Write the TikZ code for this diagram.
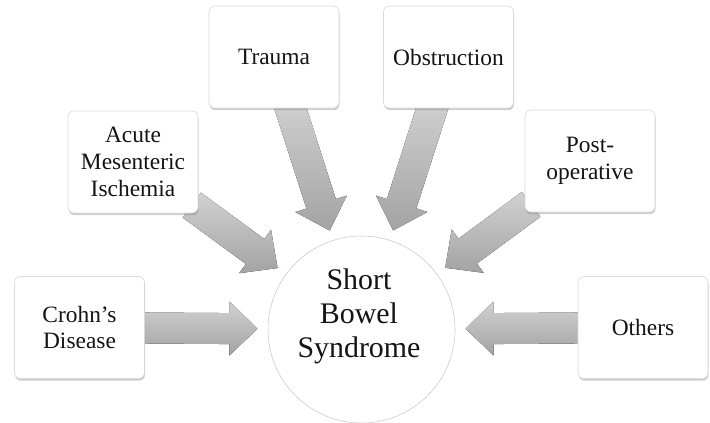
\documentclass[tikz,border=0pt]{standalone}
\usepackage{fontspec}
\setmainfont{Liberation Serif}
\usetikzlibrary{calc,shadows}
\pgfdeclarelayer{background}
\pgfsetlayers{background,main}

% Block arrow from the border of node #1 to the coordinate #2
\newcommand\feedarrow[2]{%
  \path (#1) -- (#2) coordinate[pos=0] (fa-s);
  \coordinate (fa-a) at ($(fa-s)!-8bp!(#2)$);
  \coordinate (fa-h) at ($(#2)!28bp!(fa-s)$);
  \fill[feed] ($(fa-a)!15.5bp!90:(#2)$) -- ($(fa-h)!15.5bp!90:(#2)$)
    -- ($(fa-h)!27bp!90:(#2)$) -- (#2) -- ($(fa-h)!27bp!-90:(#2)$)
    -- ($(fa-h)!15.5bp!-90:(#2)$) -- ($(fa-a)!15.5bp!-90:(#2)$) -- cycle;
}

\begin{document}
\begin{tikzpicture}[x=1bp,y=-1bp,
  cause/.style={draw=gray!30, line width=0.6bp, fill=white, rounded corners=6bp,
    minimum width=130bp, minimum height=102bp, align=center, inner sep=2bp,
    font=\fontsize{23.5}{27}\selectfont, text=black!92,
    drop shadow={shadow xshift=0.6bp, shadow yshift=-2.2bp, opacity=0.35, fill=black!55}},
  hub/.style={circle, draw=gray!40, line width=0.6bp, fill=white,
    minimum size=187bp, inner sep=0pt},
  hubtext/.style={align=center, font=\fontsize{30}{34}\selectfont, text=black!92, inner sep=0pt},
  feed/.style={top color=gray!36, bottom color=gray!72, draw=none}
]
\useasboundingbox (0,0) rectangle (710,422);

% central circle
\node[hub] (sbs) at (361.5,329.5) {};
\node[hubtext] (sbslabel) at (359,316) {Short\\Bowel\\Syndrome};

% causes
\node[cause] (crohn)  at (79.5,327.5) {Crohn’s\\Disease};
\node[cause] (acute)  at (133,162)    {Acute\\Mesenteric\\Ischemia};
\node[cause] (trauma) at (274,57)     {Trauma};
\node[cause] (obstr)  at (448.5,57)   {Obstruction};
\node[cause] (postop) at (590,161)    {Post-\\operative};
\node[cause] (others) at (643,327.5)  {Others};

% arrow tips, all at the same distance from the hub centre
\foreach \c in {crohn,acute,trauma,obstr,postop,others}
  \coordinate (tip-\c) at ($(sbs.center)!104bp!(\c.center)$);

\begin{pgfonlayer}{background}
  \foreach \c in {crohn,acute,trauma,obstr,postop,others}
    {\feedarrow{\c}{tip-\c}}
\end{pgfonlayer}
\end{tikzpicture}
\end{document}
